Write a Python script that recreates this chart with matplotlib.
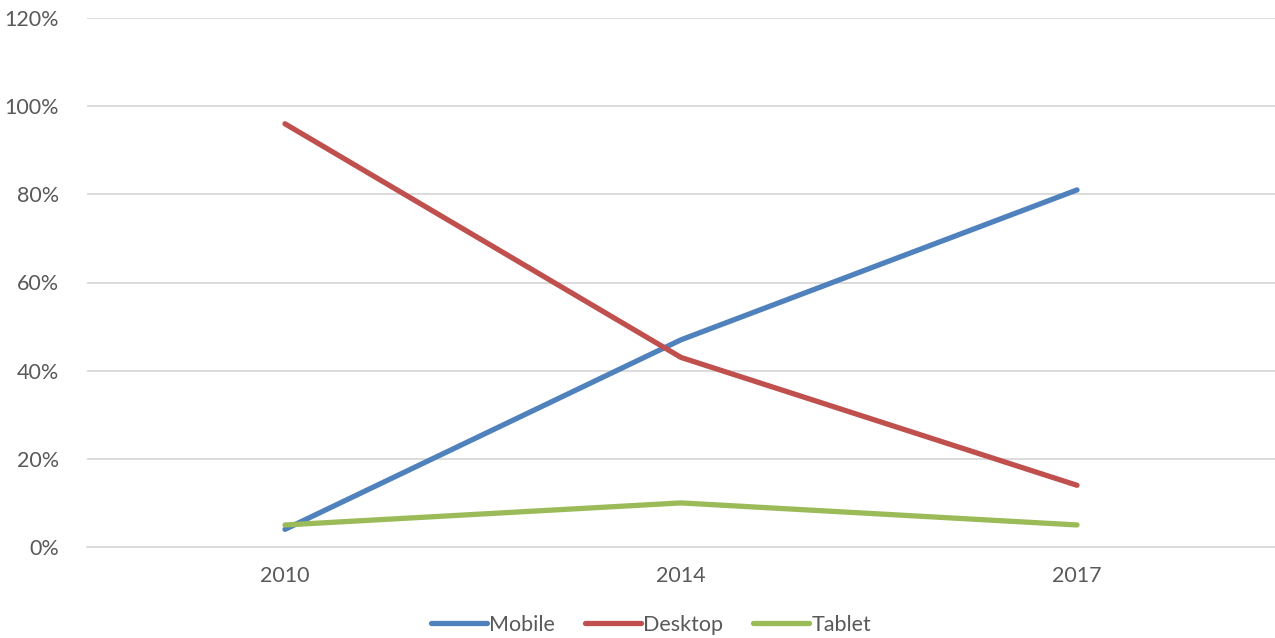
import matplotlib
matplotlib.use("Agg")
import matplotlib.pyplot as plt
from matplotlib.ticker import FuncFormatter

years = ["2010", "2014", "2017"]
mobile = [4, 47, 81]
desktop = [96, 43, 14]
tablet = [5, 10, 5]
series_names = ["Mobile", "Desktop", "Tablet"]
colors = ["#4F81BD", "#C0504D", "#9BBB59"]

plt.rcParams['font.family'] = ['Lato', 'DejaVu Sans']
fig = plt.figure(figsize=(12.75, 6.38), dpi=100)
ax = fig.add_axes([87/1275, 1-547/638, 1188/1275, (547-18)/638])

x = list(range(len(years)))
for vals, name, c in zip([mobile, desktop, tablet], series_names, colors):
    ax.plot(x, vals, color=c, lw=3.8, label=name, solid_capstyle='round', solid_joinstyle='round')

ax.set_xlim(-0.5, 2.5)
ax.set_ylim(0, 120)
ax.set_yticks(range(0, 121, 20))
ax.yaxis.set_major_formatter(FuncFormatter(lambda v, p: f"{int(v)}%"))
ax.set_xticks(x)
ax.set_xticklabels(years)
ax.grid(axis='y', color='#D9D9D9', lw=1.3)
ax.set_axisbelow(True)
for s in ['top', 'right', 'left']:
    ax.spines[s].set_visible(False)
ax.spines['bottom'].set_color('#D9D9D9')
ax.spines['bottom'].set_linewidth(1.3)
ax.tick_params(axis='both', length=0, labelsize=15.5, labelcolor='#595959')
ax.tick_params(axis='y', pad=20)
ax.tick_params(axis='x', pad=14)

leg = fig.legend(loc='center', bbox_to_anchor=(651/1275, 1-625/638), ncol=3, frameon=False,
                 fontsize=15.5, handlelength=2.6, handletextpad=0.1, columnspacing=1.4)
for t in leg.get_texts():
    t.set_color('#595959')

fig.savefig("out.png", dpi=100)
